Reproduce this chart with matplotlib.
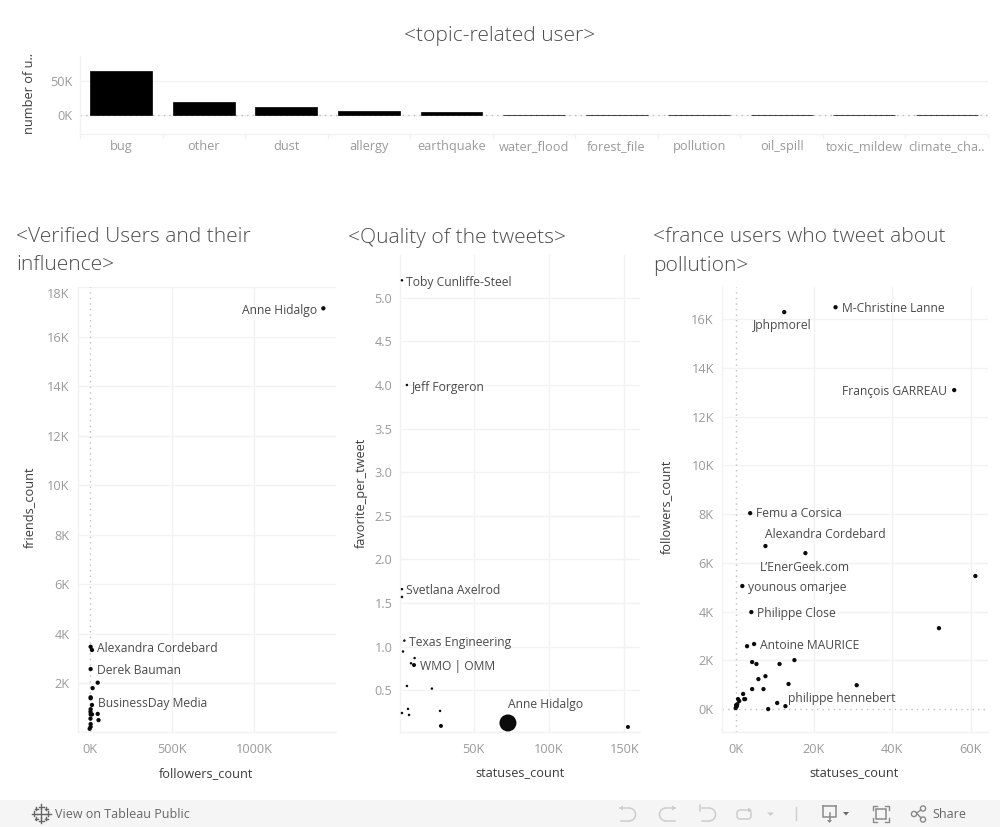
"""Rebuild of the Tableau dashboard: topic users bar chart and three scatter panels."""

import numpy as np
import matplotlib
matplotlib.use("Agg")
import matplotlib.pyplot as plt
from matplotlib.patches import Arc, Rectangle, Circle, FancyBboxPatch

W, H = 1000, 827

topics = ["bug", "other", "dust", "allergy", "earthquake", "water_flood", "forest_file",
          "pollution", "oil_spill", "toxic_mildew", "climate_cha.."]
topic_users = [65000, 19000, 12000, 6000, 4600, 650, 600, 500, 400, 300, 200]

# verified users panel (followers in K, friends in K)
ver_followers = [1420, 4, 12, 4, 47, 16, 4, 12, 4, 3, 4, 12, 47, 3, 52, 4, 4, -2, 4]
ver_friends = [17.14, 3.48, 3.35, 2.58, 2.03, 1.81, 1.40, 1.13, 0.96, 0.86, 0.75, 0.75, 0.77,
               0.58, 0.52, 0.36, 0.25, 0.17, 1.44]

# quality panel (statuses in K, favorites per tweet)
qual_statuses = [2.3, 5.6, 2.3, 2.3, 3.9, 3.0, 10.7, 8.3, 10.3, 5.6, 22.2, 6.3, 2.3, 7.0,
                 27.6, 28.2, 72.7, 152.4]
qual_favorites = [5.2, 4.0, 1.66, 1.57, 1.07, 0.945, 0.87, 0.81, 0.79, 0.55, 0.52, 0.287,
                  0.24, 0.218, 0.264, 0.092, 0.126, 0.08]
qual_weight = [2.5, 2.5, 2.5, 2.5, 2.5, 2.5, 2.5, 2.5, 4, 2.5, 2.5, 2.5, 2.5, 2.5, 2.5, 4, 17, 4]

# france panel (statuses in K, followers in K)
fr_statuses = [25.5, 12.4, 55.8, 3.7, 7.6, 17.8, 1.7, 4.0, 61.2, 51.9, 4.7, 2.9, 4.2, 5.3,
               11.2, 15.0, 7.6, 5.8, 13.5, 30.9, 4.2, 7.1, 1.9, 2.4, 2.2, 0.6, 0.9, 0.1,
               0.4, 0.3, 0.0, 10.6, 12.7, 8.3]
fr_followers = [16.49, 16.29, 13.09, 8.04, 6.69, 6.4, 5.05, 3.98, 5.46, 3.32, 2.67, 2.58,
                1.93, 1.85, 1.85, 2.01, 1.35, 1.23, 1.03, 0.98, 0.82, 0.82, 0.62, 0.41,
                0.41, 0.41, 0.33, 0.16, 0.2, 0.12, 0.04, 0.25, 0.12, 0.0]

# (text, point index, dx px, dy px, ha)
ver_labels = [("Anne Hidalgo", 0, -6, -1, "right"), ("Alexandra Cordebard", 1, 6, -1, "left"),
              ("Derek Bauman", 3, 6, -1, "left"), ("BusinessDay Media", 7, 6, 2, "left")]
qual_labels = [("Toby Cunliffe-Steel", 0, 4, -2, "left"), ("Jeff Forgeron", 1, 5, -2, "left"),
               ("Svetlana Axelrod", 2, 4, -1, "left"), ("Texas Engineering", 4, 5, -1, "left"),
               ("WMO | OMM", 8, 6, -1, "left"), ("Anne Hidalgo", 16, 0, 19, "left")]
fr_labels = [("M-Christine Lanne", 0, 6, -1, "left"), ("Jphpmorel", 1, -31, -13, "left"),
             ("François GARREAU", 2, -7, -1, "right"), ("Femu a Corsica", 3, 6, 0, "left"),
             ("Alexandra Cordebard", 4, 0, 12, "left"), ("L’EnerGeek.com", 5, -46, -14, "left"),
             ("younous omarjee", 6, 6, -1, "left"), ("Philippe Close", 7, 6, -1, "left"),
             ("Antoine MAURICE", 10, 6, -1, "left"), ("philippe hennebert", 32, 3, 8, "left")]

GRID = "#f2f2f2"
ZERO = "#c0c0c0"
TICK = "#9a9a9a"
DARK = "#4a4a4a"
LABEL = "#3c3c3c"
TITLE = "#4c4c4c"
TICK_SIZE = 9.2

plt.rcParams["font.family"] = ["Open Sans", "DejaVu Sans"]


def px_axes(fig, left, top, right, bottom):
    return fig.add_axes([left / W, 1 - bottom / H, (right - left) / W, (bottom - top) / H])


def style_axes(ax):
    for side in ["top", "right"]:
        ax.spines[side].set_visible(False)
    for side in ["left", "bottom"]:
        ax.spines[side].set_color(GRID)
        ax.spines[side].set_linewidth(1)
    ax.grid(True, color=GRID, linewidth=1)
    ax.set_axisbelow(True)
    ax.tick_params(length=0, labelsize=TICK_SIZE, labelcolor=TICK, pad=8)
    ax.tick_params(axis="y", pad=5.6)


def fig_text(fig, x, y, s, **kw):
    kw.setdefault("va", "center")
    return fig.text(x / W, 1 - y / H, s, **kw)


def zero_line(line_fn):
    line_fn(0, color=ZERO, linewidth=1, linestyle=(0, (1, 3)), zorder=2)


def scatter_panel(ax, xs, ys, sizes, labels):
    ax.scatter(xs, ys, s=(np.asarray(sizes, dtype=float) * 0.72) ** 2, color="#0b0b0b",
               linewidths=0, zorder=3, clip_on=False)
    for text, i, dx, dy, ha in labels:
        ax.annotate(text, (xs[i], ys[i]), xytext=(dx, dy - 0.7), textcoords="offset pixels",
                    fontsize=8.7, color=DARK, ha=ha, va="center", zorder=4)


fig = plt.figure(figsize=(W / 100, H / 100), dpi=100, facecolor="white")

# topic bars
ax = px_axes(fig, 80, 56, 988, 133.5)
style_axes(ax)
ax.bar(np.arange(len(topics)), topic_users, width=0.75, color="black", edgecolor="black",
       linewidth=0.5, zorder=3)
ax.set_xlim(-0.5, len(topics) - 0.5)
ax.set_ylim(-27200, 86800)
ax.set_yticks([0, 50000])
ax.set_yticklabels(["0K", "50K"])
ax.set_xticks(np.arange(len(topics)))
ax.set_xticklabels(topics)
ax.xaxis.grid(False)
ax.tick_params(axis="x", pad=5)
for edge in np.arange(len(topics) + 1) - 0.5:
    ax.plot([edge, edge], [0, -4 / 77.5], transform=ax.get_xaxis_transform(), color=GRID,
            linewidth=1, clip_on=False)
zero_line(ax.axhline)

# verified users
ax = px_axes(fig, 77.5, 287, 336, 731.5)
style_axes(ax)
ax.set_xlim(-76, 1497)
ax.set_ylim(0.06, 17.98)
ax.set_xticks([0, 500, 1000])
ax.set_xticklabels(["0K", "500K", "1000K"])
ax.set_yticks(np.arange(2, 19, 2))
# the top label sits below its gridline, clamped inside the pane
ax.set_yticklabels([f"{v}K" for v in range(2, 18, 2)] + [""])
ax.annotate("18K", (0, 18), xycoords=ax.get_yaxis_transform(), xytext=(-8, -8),
            textcoords="offset pixels", fontsize=TICK_SIZE, color=TICK, ha="right", va="center",
            annotation_clip=False)
ax.get_xgridlines()[0].set_visible(False)
zero_line(ax.axvline)
scatter_panel(ax, ver_followers, ver_friends, [4.3] * len(ver_friends), ver_labels)

# quality of tweets
ax = px_axes(fig, 400, 255, 640, 731.5)
style_axes(ax)
ax.set_xlim(1.0, 160.4)
ax.set_ylim(0.028, 5.49)
ax.set_xticks([50, 100, 150])
ax.set_xticklabels(["50K", "100K", "150K"])
ax.set_yticks(np.arange(0.5, 5.01, 0.5))
ax.set_yticklabels([f"{v:.1f}" for v in np.arange(0.5, 5.01, 0.5)])
scatter_panel(ax, qual_statuses, qual_favorites, qual_weight, qual_labels)

# france users
ax = px_axes(fig, 721.7, 287, 987.7, 731.5)
style_axes(ax)
ax.set_xlim(-3.57, 64.35)
ax.set_ylim(-0.92, 17.32)
ax.set_xticks([0, 20, 40, 60])
ax.set_xticklabels(["0K", "20K", "40K", "60K"])
ax.set_yticks(np.arange(0, 17, 2))
ax.set_yticklabels([f"{v}K" for v in range(0, 17, 2)])
ax.get_xgridlines()[0].set_visible(False)
ax.get_ygridlines()[0].set_visible(False)
zero_line(ax.axvline)
zero_line(ax.axhline)
scatter_panel(ax, fr_statuses, fr_followers, [4.3] * len(fr_statuses), fr_labels)

# titles
title_kw = dict(fontsize=15.1, color=TITLE, fontweight="light")
fig_text(fig, 500, 35.5, "<topic-related user>", ha="center", **title_kw)
fig_text(fig, 16, 237.5, "<Verified Users and their", ha="left", **title_kw)
fig_text(fig, 16, 265.5, "influence>", ha="left", **title_kw)
fig_text(fig, 348, 237.5, "<Quality of the tweets>", ha="left", **title_kw)
fig_text(fig, 653, 237.5, "<france users who tweet about", ha="left", **title_kw)
fig_text(fig, 653, 265.5, "pollution>", ha="left", **title_kw)

# axis titles
label_kw = dict(fontsize=9.2, color=LABEL, ha="center")
fig_text(fig, 206, 773.5, "followers_count", **label_kw)
fig_text(fig, 520, 773.5, "statuses_count", **label_kw)
fig_text(fig, 854, 773.5, "statuses_count", **label_kw)
fig_text(fig, 29.5, 93, "number of u..", rotation=90, **label_kw)
fig_text(fig, 29.5, 507, "friends_count", rotation=90, **label_kw)
fig_text(fig, 361.5, 493, "favorite_per_tweet", rotation=90, **label_kw)
fig_text(fig, 666.5, 507, "followers_count", rotation=90, **label_kw)

# footer bar with its toolbar icons, drawn in pixel coordinates
bar = fig.add_axes([0, 0, 1, 1], zorder=-1)
bar.set_xlim(0, W)
bar.set_ylim(H, 0)
bar.axis("off")
bar.add_patch(Rectangle((0, 800), W, 27, color="#f5f5f5", linewidth=0))
ICON = "#8a8a8a"
FAINT = "#cdcdcd"

# Tableau cross logo
for cx, cy, r in [(41, 813.5, 4.5), (41, 806.5, 2.5), (41, 820.5, 2.5), (34, 813.5, 2.5),
                  (48, 813.5, 2.5), (36, 808.5, 1.5), (46, 808.5, 1.5), (36, 818.5, 1.5),
                  (46, 818.5, 1.5)]:
    bar.plot([cx - r, cx + r], [cy, cy], color="#666666", linewidth=1)
    bar.plot([cx, cx], [cy - r, cy + r], color="#666666", linewidth=1)
fig_text(fig, 55, 814, "View on Tableau Public", fontsize=9, color="#666666", ha="left",
         fontweight="medium")

# undo, redo, revert, refresh
bar.plot([620, 629], [808, 808], color=FAINT, linewidth=1.1)
bar.plot([621, 629], [821, 821], color=FAINT, linewidth=1.1)
bar.add_patch(Arc((629, 814.5), 13, 13, theta1=-90, theta2=90, color=FAINT, linewidth=1.1))
bar.fill([619, 623, 623], [808, 805.5, 810.5], color=FAINT, linewidth=0)
bar.plot([666, 675], [808, 808], color=FAINT, linewidth=1.1)
bar.plot([666, 675], [821, 821], color=FAINT, linewidth=1.1)
bar.add_patch(Arc((666, 814.5), 13, 13, theta1=90, theta2=270, color=FAINT, linewidth=1.1))
bar.fill([676, 672, 672], [808, 805.5, 810.5], color=FAINT, linewidth=0)
bar.plot([700, 700], [805, 811], color=FAINT, linewidth=1.1)
bar.plot([702, 709], [808, 808], color=FAINT, linewidth=1.1)
bar.plot([702, 709], [821, 821], color=FAINT, linewidth=1.1)
bar.add_patch(Arc((709, 814.5), 13, 13, theta1=-90, theta2=90, color=FAINT, linewidth=1.1))
bar.add_patch(FancyBboxPatch((737, 810), 14, 9, boxstyle="round,pad=0,rounding_size=3",
                             fill=False, edgecolor=FAINT, linewidth=1.1))
bar.fill([752, 748, 748], [810, 807.5, 812.5], color=FAINT, linewidth=0)
bar.fill([767, 774, 770.5], [812.5, 812.5, 816], color=FAINT, linewidth=0)
bar.plot([795.5, 795.5], [807, 820], color=FAINT, linewidth=1)

# download, fit and share
bar.plot([823, 823, 836, 836], [806, 817, 817, 806], color=ICON, linewidth=1.1)
bar.plot([823, 836], [806, 806], color=ICON, linewidth=1.1)
bar.plot([829.5, 829.5], [813, 821], color=ICON, linewidth=1.1)
bar.fill([827, 832, 829.5], [820, 820, 823], color=ICON, linewidth=0)
bar.fill([843, 849, 846], [812, 812, 815.5], color="#666666", linewidth=0)
bar.add_patch(Rectangle((876, 809), 10, 10, fill=False, edgecolor=ICON, linewidth=1.1))
bar.plot([873, 873, 877], [810, 806, 806], color=ICON, linewidth=1)
bar.plot([889, 889, 885], [810, 806, 806], color=ICON, linewidth=1)
bar.plot([873, 873, 877], [818, 822, 822], color=ICON, linewidth=1)
bar.plot([889, 889, 885], [818, 822, 822], color=ICON, linewidth=1)
bar.add_patch(Circle((914, 814), 2.6, fill=False, edgecolor=ICON, linewidth=1))
bar.add_patch(Circle((923, 808.5), 2.6, fill=False, edgecolor=ICON, linewidth=1))
bar.add_patch(Circle((923, 819.5), 2.6, fill=False, edgecolor=ICON, linewidth=1))
bar.plot([921, 916.5, 921], [810, 813, 818], color=ICON, linewidth=1)
fig_text(fig, 932, 814, "Share", fontsize=9, color="#666666", ha="left", fontweight="medium")

fig.savefig("out.png", dpi=100)
plt.close(fig)
